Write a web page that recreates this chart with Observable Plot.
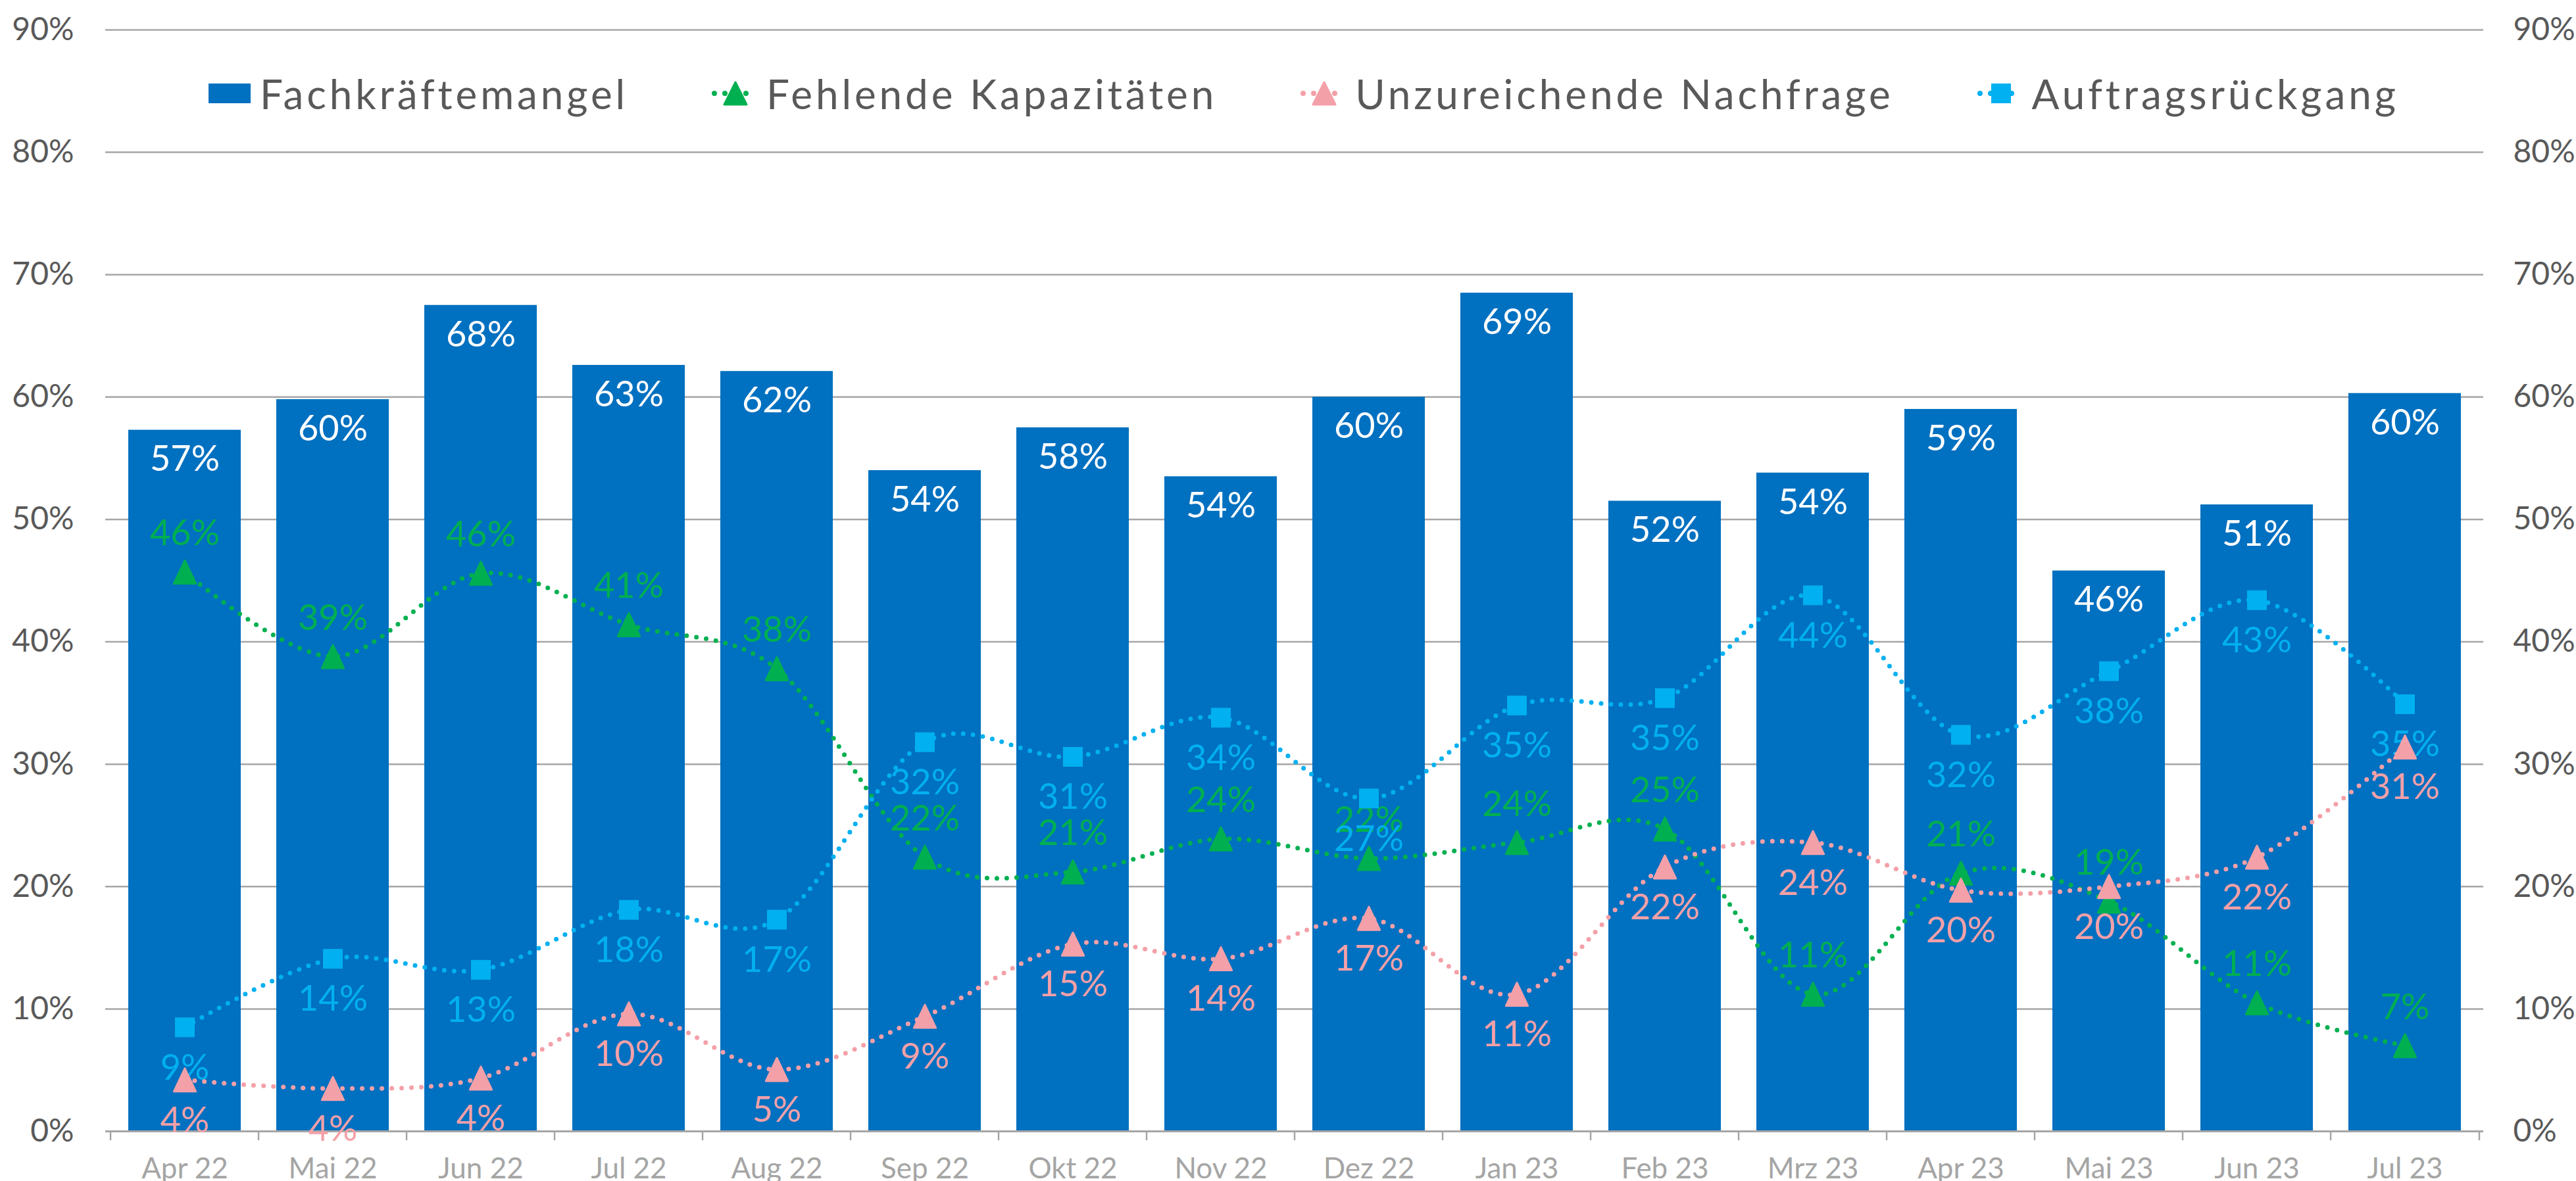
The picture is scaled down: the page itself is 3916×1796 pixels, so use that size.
<!DOCTYPE html>
<html>
<head>
<meta charset="utf-8">
<script src="https://cdn.jsdelivr.net/npm/d3@7"></script>
<script src="https://cdn.jsdelivr.net/npm/@observablehq/plot@0.6"></script>
<style>
  html, body { margin: 0; padding: 0; background: #ffffff; }
  #wrap { position: relative; width: 3916px; height: 1796px; overflow: hidden; }
  #legend { position: absolute; left: 317px; top: 110px; height: 64px; display: flex; align-items: center;
            font-family: Lato, "Noto Sans", sans-serif; font-size: 62px; letter-spacing: 4.9px; color: #595959; white-space: nowrap; }
  #legend .item { display: flex; align-items: center; margin-right: 126px; }
  #legend .item:last-child { margin-right: 0; }
  #legend svg { display: block; }
</style>
</head>
<body>
<div id="wrap"><div id="chart"></div><div id="legend"></div></div>
<script>
// ---- data ----
const months = ["Apr 22","Mai 22","Jun 22","Jul 22","Aug 22","Sep 22","Okt 22","Nov 22","Dez 22","Jan 23","Feb 23","Mrz 23","Apr 23","Mai 23","Jun 23","Jul 23"];
const fachkraeftemangel      = [57.3, 59.8, 67.5, 62.6, 62.1, 54.0, 57.5, 53.5, 60.0, 68.5, 51.5, 53.8, 59.0, 45.8, 51.2, 60.3];
const fehlendeKapazitaeten   = [45.7, 38.8, 45.6, 41.4, 37.8, 22.4, 21.2, 23.9, 22.3, 23.6, 24.7, 11.2, 21.1, 18.8, 10.5, 7.0];
const unzureichendeNachfrage = [4.2, 3.5, 4.35, 9.6, 5.05, 9.4, 15.3, 14.1, 17.4, 11.2, 21.6, 23.6, 19.7, 20.0, 22.4, 31.4];
const auftragsrueckgang      = [8.5, 14.1, 13.2, 18.1, 17.3, 31.8, 30.6, 33.8, 27.2, 34.8, 35.4, 43.8, 32.4, 37.6, 43.4, 34.9];
const yTicks = [0, 10, 20, 30, 40, 50, 60, 70, 80, 90];
const seriesNames = ["Fachkräftemangel", "Fehlende Kapazitäten", "Unzureichende Nachfrage", "Auftragsrückgang"];

// ---- styles ----
const C = { bar: "#0070C0", green: "#00B050", pink: "#F4A0A8", cyan: "#00B0F0", grid: "#A6A6A6", ytext: "#595959", xtext: "#A5A5A5" };
const W = 3916, H = 1796, mL = 160, mR = 141, mT = 45, mB = 76;
const step = (W - mL - mR) / months.length;
const FONT = "Lato, 'Noto Sans', sans-serif";

const rows = months.map((m, i) => ({
  month: m,
  fk: fachkraeftemangel[i],
  fe: fehlendeKapazitaeten[i],
  un: unzureichendeNachfrage[i],
  au: auftragsrueckgang[i]
}));
const pct = v => Math.round(v) + "%";

// custom symbols (taller triangle, square)
const triSym = { draw(ctx, size) { const r = Math.sqrt(size / Math.PI); ctx.moveTo(0, -r); ctx.lineTo(0.95 * r, r); ctx.lineTo(-0.95 * r, r); ctx.closePath(); } };
const sqSym  = { draw(ctx, size) { const r = Math.sqrt(size / Math.PI); ctx.rect(-r, -r, 2 * r, 2 * r); } };

function series(key, color, symbol, r, labelDy) {
  return [
    Plot.line(rows, { x: "month", y: key, curve: "cardinal", tension: 0, stroke: color, strokeWidth: 7,
                      strokeDasharray: "0 15", strokeLinecap: "round" }),
    Plot.dot(rows, { x: "month", y: key, symbol, r, fill: color, stroke: color, strokeWidth: symbol === triSym ? 3 : 0,
                     strokeLinejoin: "round" }),
    Plot.text(rows, { x: "month", y: key, text: d => pct(d[key]), dy: labelDy, fill: color, fontSize: 54 })
  ];
}

const chart = Plot.plot({
  width: W, height: H,
  marginLeft: mL, marginRight: mR, marginTop: mT, marginBottom: mB,
  style: { fontFamily: FONT, background: "white", overflow: "visible" },
  x: { domain: months, paddingInner: 0.24, paddingOuter: 0.12 },
  y: { domain: [0, 90] },
  marks: [
    Plot.ruleY(yTicks.slice(1), { stroke: C.grid, strokeWidth: 2.5 }),
    Plot.barY(rows, { x: "month", y: "fk", fill: C.bar }),
    Plot.ruleY([0], { stroke: C.grid, strokeWidth: 3 }),
    Plot.ruleX(months, { x: d => d, y1: 0, y2: 0, insetBottom: -14, dx: -step / 2, stroke: C.grid, strokeWidth: 2.5 }),
    Plot.ruleX(months.slice(-1), { x: d => d, y1: 0, y2: 0, insetBottom: -14, dx: step / 2, stroke: C.grid, strokeWidth: 2.5 }),
    Plot.text(rows, { x: "month", y: "fk", text: d => pct(d.fk), dy: 45, fill: "white", fontSize: 54 }),
    ...series("fe", C.green, triSym, 17.5, -58),
    ...series("au", C.cyan, sqSym, 15, 62),
    ...series("un", C.pink, triSym, 17.5, 62),
    Plot.axisY(yTicks, { anchor: "left", tickSize: 0, tickPadding: 48, tickFormat: d => d + "%", fill: C.ytext, fontSize: 48, label: null }),
    Plot.axisY(yTicks, { anchor: "right", tickSize: 0, tickPadding: 45, tickFormat: d => d + "%", fill: C.ytext, fontSize: 48, label: null }),
    Plot.axisX({ tickSize: 0, tickPadding: 40, fill: C.xtext, fontSize: 44, label: null })
  ]
});
document.getElementById("chart").appendChild(chart);

// ---- legend (HTML overlay) ----
const legend = document.getElementById("legend");
const NS = "http://www.w3.org/2000/svg";
function swatchBar(color) {
  const s = document.createElement("div");
  s.style.cssText = `width:64px;height:30px;background:${color};margin-right:14px;`;
  return s;
}
function swatchLine(color, kind) {
  const svg = document.createElementNS(NS, "svg");
  svg.setAttribute("width", 74); svg.setAttribute("height", 44);
  svg.style.marginRight = "10px";
  const ln = document.createElementNS(NS, "line");
  ln.setAttribute("x1", 5); ln.setAttribute("x2", 69); ln.setAttribute("y1", 22); ln.setAttribute("y2", 22);
  ln.setAttribute("stroke", color); ln.setAttribute("stroke-width", 8);
  ln.setAttribute("stroke-dasharray", "0 16"); ln.setAttribute("stroke-linecap", "round");
  svg.appendChild(ln);
  let m;
  if (kind === "tri") {
    m = document.createElementNS(NS, "path");
    m.setAttribute("d", "M37,5 L54,39 L20,39 Z");
    m.setAttribute("stroke", color); m.setAttribute("stroke-width", 3); m.setAttribute("stroke-linejoin", "round");
  } else {
    m = document.createElementNS(NS, "rect");
    m.setAttribute("x", 22); m.setAttribute("y", 7); m.setAttribute("width", 30); m.setAttribute("height", 30);
  }
  m.setAttribute("fill", color);
  svg.appendChild(m);
  return svg;
}
const legendSpec = [
  { name: seriesNames[0], sw: () => swatchBar(C.bar) },
  { name: seriesNames[1], sw: () => swatchLine(C.green, "tri") },
  { name: seriesNames[2], sw: () => swatchLine(C.pink, "tri") },
  { name: seriesNames[3], sw: () => swatchLine(C.cyan, "sq") }
];
for (const it of legendSpec) {
  const d = document.createElement("div");
  d.className = "item";
  d.appendChild(it.sw());
  const t = document.createElement("span");
  t.textContent = it.name;
  d.appendChild(t);
  legend.appendChild(d);
}
</script>
</body>
</html>
